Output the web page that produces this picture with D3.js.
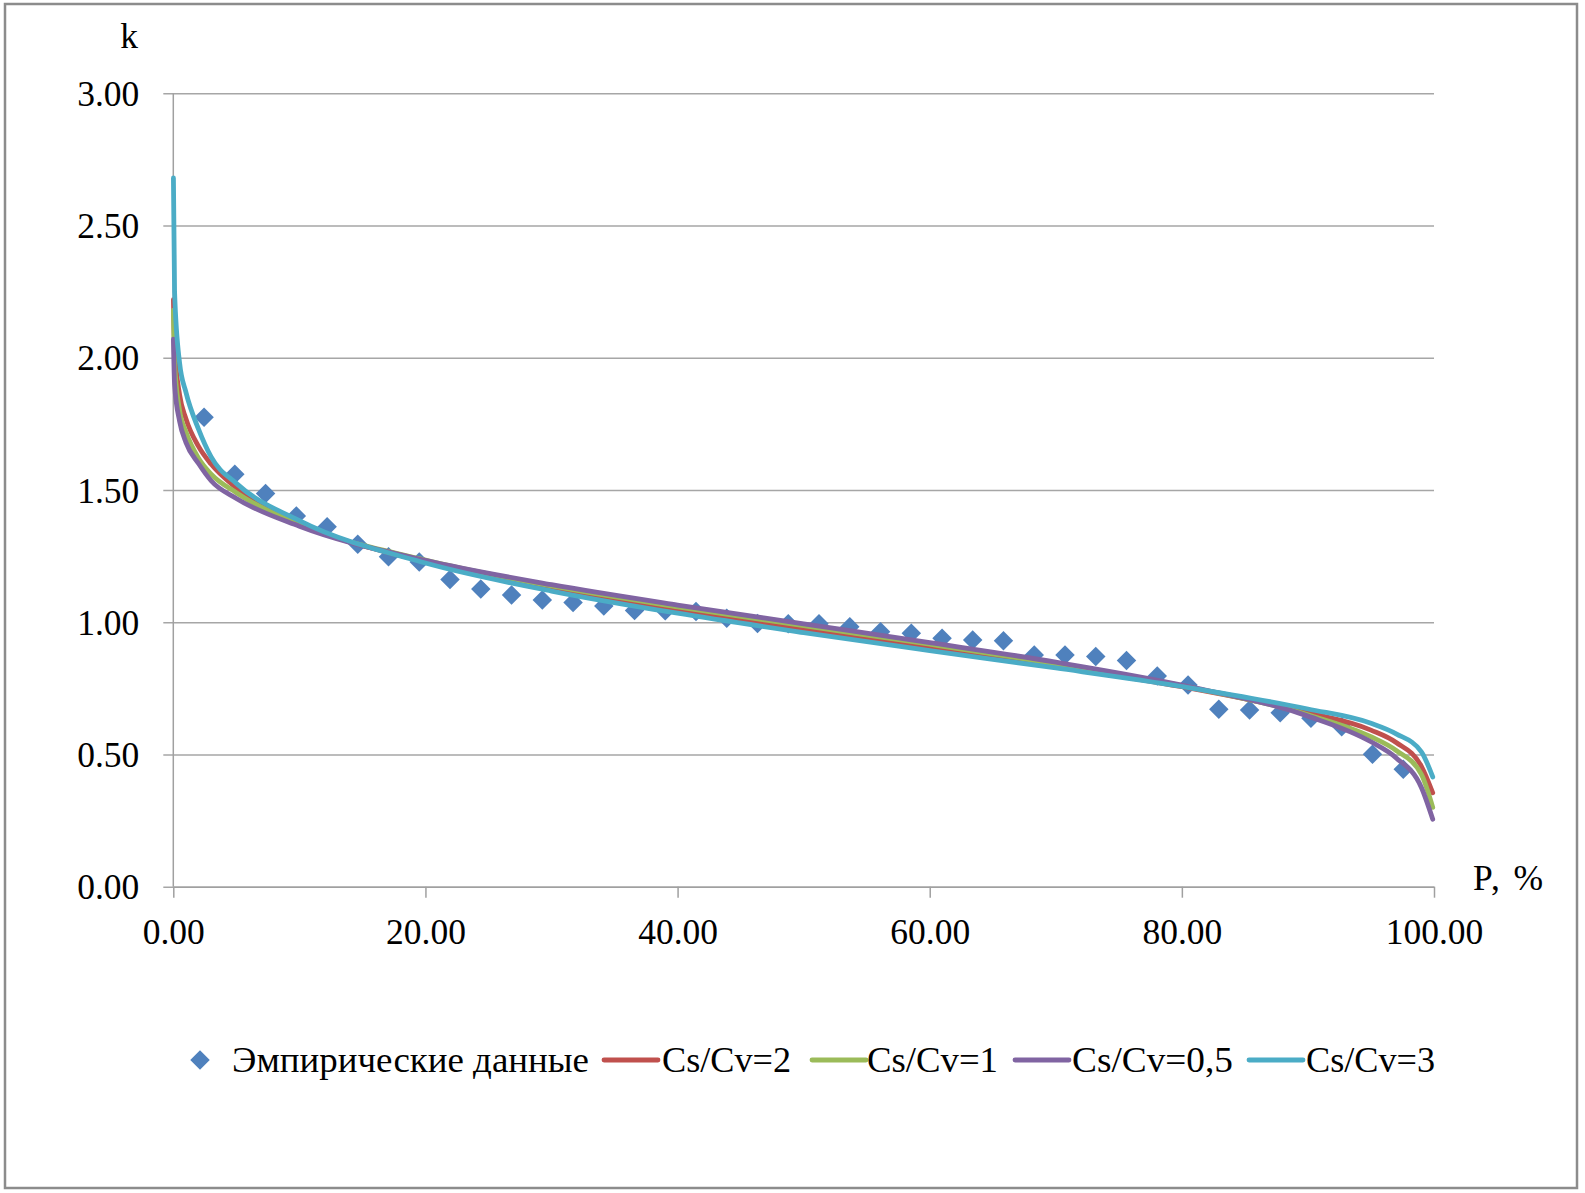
<!DOCTYPE html>
<html><head><meta charset="utf-8">
<script src="https://cdn.jsdelivr.net/npm/d3@7"></script>
<style>
html,body{margin:0;padding:0;background:#fff;}
svg text{font-family:"Liberation Serif","Times New Roman",serif;fill:#000;}
</style></head>
<body>
<svg id="chart" width="1585" height="1193"></svg>
<script>
// ---- data ----
const empP = [2.44,4.88,7.32,9.76,12.20,14.63,17.07,19.51,21.95,24.39,26.83,29.27,31.71,34.15,36.59,39.02,41.46,43.90,46.34,48.78,51.22,53.66,56.10,58.54,60.98,63.41,65.85,68.29,70.73,73.17,75.61,78.05,80.49,82.93,85.37,87.80,90.24,92.68,95.12,97.56];
const empK = [1.775,1.560,1.487,1.402,1.361,1.295,1.248,1.228,1.162,1.126,1.103,1.084,1.075,1.061,1.044,1.043,1.041,1.015,0.995,0.994,0.994,0.983,0.964,0.958,0.939,0.933,0.930,0.876,0.876,0.870,0.855,0.797,0.763,0.671,0.668,0.658,0.637,0.605,0.501,0.444];

const curveP = [0.01,0.1,0.5,1,2,3,5,10,20,30,40,50,60,70,80,90,95,97,99,99.9];
const kCs2  = [2.22,2.04,1.86,1.77,1.665,1.598,1.508,1.376,1.228,1.127,1.046,0.973,0.904,0.834,0.756,0.658,0.592,0.545,0.455,0.355];
const kCs1  = [2.18,1.98,1.80,1.72,1.62,1.56,1.49,1.37,1.235,1.137,1.058,0.987,0.917,0.843,0.760,0.650,0.567,0.515,0.425,0.300];
const kCs05 = [2.07,1.90,1.76,1.68,1.60,1.535,1.468,1.363,1.234,1.142,1.065,0.994,0.923,0.849,0.762,0.645,0.548,0.487,0.375,0.255];
const kCs3  = [2.68,2.25,1.98,1.87,1.73,1.625,1.525,1.384,1.224,1.118,1.034,0.961,0.893,0.827,0.757,0.672,0.618,0.578,0.510,0.415];

const yTicks = [0,0.5,1,1.5,2,2.5,3];
const xTicks = [0,20,40,60,80,100];
const seriesNames = ["Эмпирические данные","Cs/Cv=2","Cs/Cv=1","Cs/Cv=0,5","Cs/Cv=3"];
const seriesColors = ["#4F81BD","#C0504D","#9BBB59","#8064A2","#4BACC6"];

// ---- layout ----
const svg = d3.select("#chart");
const L = 173.3, R = 1434, T = 93.3, B = 886.7;
const x = d3.scaleLinear().domain([0,100]).range([L,R]);
const y = d3.scaleLinear().domain([0,3]).range([B,T]);
const FS = 35.5;

// outer border
svg.append("rect").attr("x",5).attr("y",4).attr("width",1572).attr("height",1184)
  .attr("fill","#fff").attr("stroke","#8c8c8c").attr("stroke-width",2.5);

// gridlines (y axis with ticks extended)
const gy = svg.append("g").attr("transform",`translate(${L},0)`)
  .call(d3.axisLeft(y).tickValues(yTicks).tickSize(-(R-L)).tickSizeOuter(0).tickFormat(d=>d.toFixed(2)).tickPadding(34));
gy.select(".domain").remove();
gy.selectAll(".tick line").attr("stroke","#a6a6a6").attr("stroke-width",1.5).attr("x1",-10);
gy.selectAll(".tick text").attr("font-size",FS).attr("font-family","Liberation Serif").attr("fill","#000").attr("dy","0.34em");

// y axis line
svg.append("line").attr("x1",L).attr("x2",L).attr("y1",T).attr("y2",B).attr("stroke","#a0a0a0").attr("stroke-width",1.5);

// x axis
const gx = svg.append("g").attr("transform",`translate(0,${B})`)
  .call(d3.axisBottom(x).tickValues(xTicks).tickSize(11).tickSizeOuter(0).tickFormat(d=>d.toFixed(2)).tickPadding(21));
gx.select(".domain").attr("stroke","#a0a0a0").attr("stroke-width",1.5);
gx.selectAll(".tick line").attr("stroke","#a0a0a0").attr("stroke-width",1.5);
gx.selectAll(".tick text").attr("font-size",FS).attr("font-family","Liberation Serif").attr("fill","#000").attr("dy","0.71em");

// axis titles
svg.append("text").attr("x",129).attr("y",48).attr("text-anchor","middle").attr("font-size",FS).text("k");
svg.append("text").attr("x",1473).attr("y",890).attr("font-size",FS)
  .attr("textLength",70).attr("lengthAdjust","spacing").text("P, %");

// markers
const diamond = d3.symbol().type(d3.symbolSquare).size(190);
svg.append("g").selectAll("path").data(empP.map((p,i)=>[p,empK[i]])).join("path")
  .attr("d",diamond)
  .attr("transform",d=>`translate(${x(d[0])},${y(d[1])}) rotate(45)`)
  .attr("fill",seriesColors[0]);

// curves
const line = d3.line().x(d=>x(d[0])).y(d=>y(d[1])).curve(d3.curveMonotoneX);
const curves = [kCs2,kCs1,kCs05,kCs3];
curves.forEach((ks,i)=>{
  svg.append("path").datum(curveP.map((p,j)=>[p,ks[j]]))
    .attr("d",line).attr("fill","none")
    .attr("stroke",seriesColors[i+1]).attr("stroke-width",4.8)
    .attr("stroke-linejoin","round").attr("stroke-linecap","round");
});

// legend
const ly = 1060;
const leg = svg.append("g");
leg.append("path").attr("d",diamond).attr("transform",`translate(200,${ly}) rotate(45)`).attr("fill",seriesColors[0]);
leg.append("text").attr("x",232).attr("y",ly+12).attr("font-size",FS)
  .attr("textLength",357).attr("lengthAdjust","spacingAndGlyphs").text(seriesNames[0]);
const legLines = [[604,662,129],[812,867,131],[1015,1072,161],[1249,1306,129]];
legLines.forEach((pos,i)=>{
  leg.append("line").attr("x1",pos[0]).attr("x2",pos[0]+54).attr("y1",ly).attr("y2",ly)
    .attr("stroke",seriesColors[i+1]).attr("stroke-width",4.8).attr("stroke-linecap","round");
  leg.append("text").attr("x",pos[1]).attr("y",ly+12).attr("font-size",FS)
    .attr("textLength",pos[2]).attr("lengthAdjust","spacingAndGlyphs").text(seriesNames[i+1]);
});
</script>
</body></html>
